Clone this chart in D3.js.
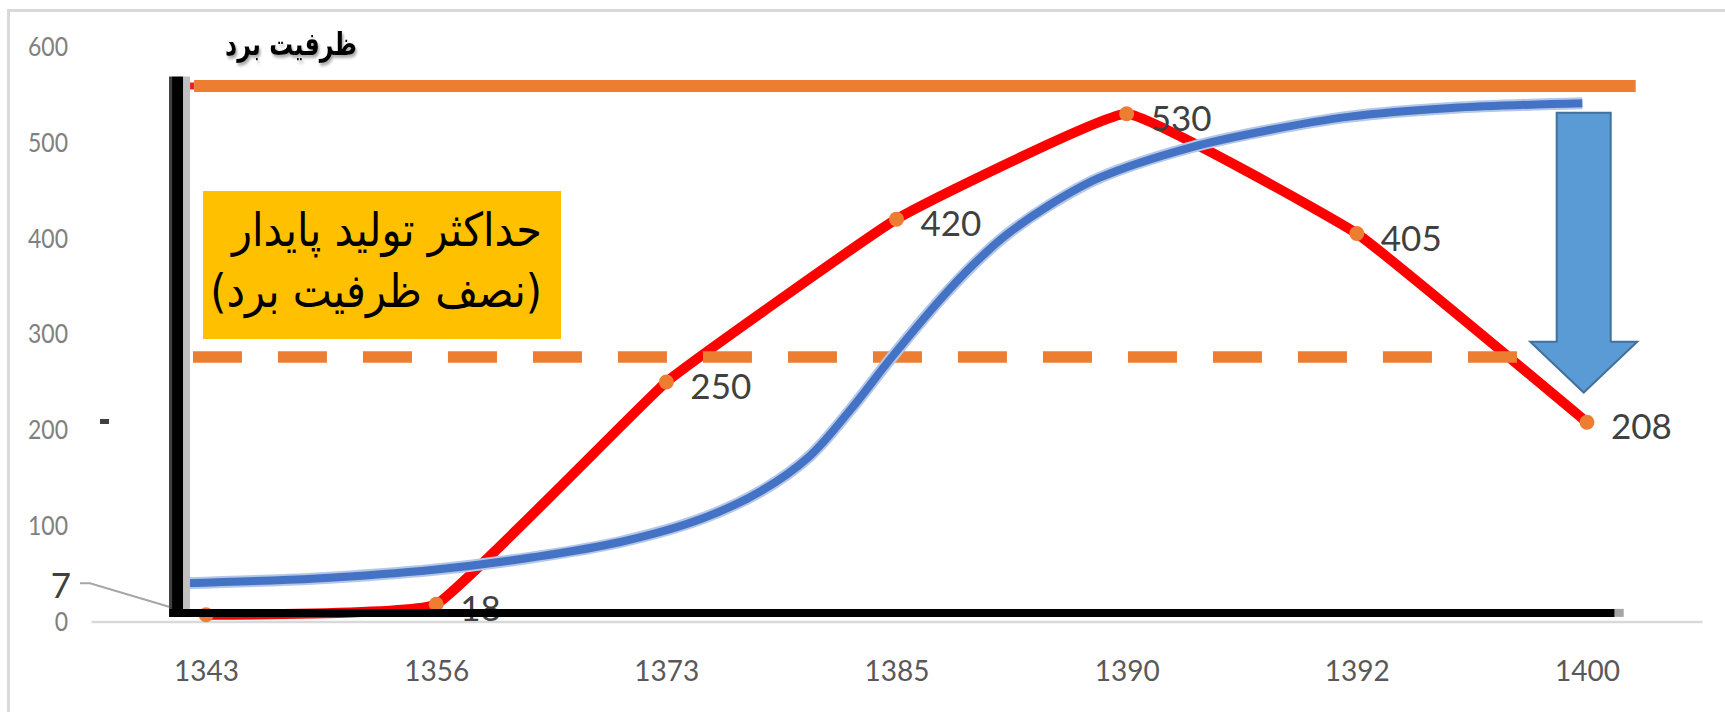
<!DOCTYPE html>
<html>
<head>
<meta charset="utf-8">
<script src="https://cdn.jsdelivr.net/npm/d3@7"></script>
<style>
  body { margin: 0; background: #ffffff; }
  svg { display: block; }
</style>
</head>
<body>
<svg id="chart" width="1725" height="712"></svg>
<script>
// Years on the category axis and the observed harvest for each year
const years = ["1343", "1356", "1373", "1385", "1390", "1392", "1400"];
const harvest = [7, 18, 250, 420, 530, 405, 208];
const yTicks = [0, 100, 200, 300, 400, 500, 600];

// Logistic growth curve: position along the year axis (in category steps) and stock level
const growthPos = [-0.09, 0.48, 0.99, 1.42, 1.80, 2.15, 2.41, 2.62, 2.80, 2.98, 3.19, 3.34, 3.48, 3.66, 3.88, 4.28, 4.62, 4.97, 5.41, 5.98];
const growthVal = [40, 45, 54, 67, 83, 107, 136, 172, 221, 276, 336, 374, 404, 434, 463, 495, 513, 527, 536, 541];

// Carrying capacity and the maximum sustainable yield level (half of it)
const capacity = 559;
const msyLevel = 276;

const titleText = "ظرفیت برد";
const boxLines = ["حداکثر تولید پایدار", "(نصف ظرفیت برد)"];

const W = 1725, H = 712;
const svg = d3.select("#chart");

const x = d3.scalePoint().domain(years).range([91, 1702]).padding(0.5);
const y = d3.scaleLinear().domain([0, 600]).range([621.5, 46.7]);
// fractional category position -> pixel
const xp = p => x(years[0]) + p * x.step();

const defs = svg.append("defs");
const shadow = defs.append("filter").attr("id", "titleShadow")
  .attr("x", "-10%").attr("y", "-20%").attr("width", "130%").attr("height", "160%");
shadow.append("feDropShadow").attr("dx", 1.5).attr("dy", 2).attr("stdDeviation", 1.2)
  .attr("flood-color", "#7f7f7f").attr("flood-opacity", 0.7);

svg.append("rect").attr("width", W).attr("height", H).attr("fill", "#ffffff");

// chart area border
svg.append("path")
  .attr("d", `M8.5,${H} V10.5 H${W}`)
  .attr("fill", "none").attr("stroke", "#d9d9d9").attr("stroke-width", 3);

// value axis labels
const yAxis = svg.append("g").attr("transform", "translate(68,0)")
  .call(d3.axisLeft(y).tickValues(yTicks).tickSize(0).tickPadding(0));
yAxis.select(".domain").remove();
yAxis.selectAll("text")
  .attr("font-family", "Lato, 'Open Sans', sans-serif")
  .attr("font-size", 23)
  .attr("fill", "#808080")
  .attr("transform", "scale(1,1.2)");

// category axis with the zero gridline as its domain
const xAxis = svg.append("g").attr("transform", `translate(0,${y(0)})`)
  .call(d3.axisBottom(x).tickSize(0).tickPadding(40));
xAxis.select(".domain").attr("stroke", "#d9d9d9").attr("stroke-width", 2.5);
xAxis.selectAll("text")
  .attr("font-family", "Lato, 'Open Sans', sans-serif")
  .attr("font-size", 28)
  .attr("fill", "#595959");

// small stray tick mark left of the plot
svg.append("rect").attr("x", 100).attr("y", 419).attr("width", 9).attr("height", 5).attr("fill", "#404040");

// harvest series (lightly smoothed line)
const harvestLine = d3.line()
  .x((d, i) => x(years[i]))
  .y(d => y(d))
  .curve(d3.curveCardinal.tension(0.72));

svg.append("path")
  .datum(harvest)
  .attr("d", harvestLine)
  .attr("fill", "none")
  .attr("stroke", "#ff0000")
  .attr("stroke-width", 10)
  .attr("stroke-linecap", "round")
  .attr("stroke-linejoin", "round");

svg.append("g").selectAll("circle")
  .data(harvest)
  .join("circle")
  .attr("cx", (d, i) => x(years[i]))
  .attr("cy", d => y(d))
  .attr("r", 7.5)
  .attr("fill", "#ed7d31");

// value labels, to the right of each point
const labelFont = "Lato, 'Open Sans', sans-serif";
svg.append("g").selectAll("text")
  .data(harvest.slice(1))
  .join("text")
  .attr("x", (d, i) => x(years[i + 1]) + 24)
  .attr("y", d => y(d) + 3)
  .attr("dominant-baseline", "central")
  .attr("font-family", labelFont)
  .attr("font-size", 35)
  .attr("fill", "#404040")
  .text(d => d);

// first point's label sits left of the axis with a leader line
const firstY = y(harvest[0]);
svg.append("polyline")
  .attr("points", `80,${y(40)} 90,${y(40)} 169,${firstY - 8}`)
  .attr("fill", "none").attr("stroke", "#a6a6a6").attr("stroke-width", 2);
svg.append("text")
  .attr("x", 61).attr("y", y(39))
  .attr("dominant-baseline", "central")
  .attr("text-anchor", "middle")
  .attr("font-family", labelFont)
  .attr("font-size", 35)
  .attr("fill", "#404040")
  .text(harvest[0]);

// dashed MSY level
svg.append("line")
  .attr("x1", xp(-0.057)).attr("x2", xp(5.71))
  .attr("y1", y(msyLevel)).attr("y2", y(msyLevel))
  .attr("stroke", "#ed7d31").attr("stroke-width", 11.5)
  .attr("stroke-dasharray", "49 36");

// logistic growth curve
const growth = growthPos.map((p, i) => [p, growthVal[i]]);
const growthLine = d3.line()
  .x(d => xp(d[0]))
  .y(d => y(d[1]))
  .curve(d3.curveCatmullRom.alpha(0.5));
svg.append("path").datum(growth).attr("d", growthLine)
  .attr("fill", "none").attr("stroke", "#b4c7e7").attr("stroke-width", 12);
svg.append("path").datum(growth).attr("d", growthLine)
  .attr("fill", "none").attr("stroke", "#4472c4").attr("stroke-width", 8);

// carrying capacity line
svg.append("line")
  .attr("x1", xp(-0.113)).attr("x2", xp(-0.052))
  .attr("y1", y(capacity)).attr("y2", y(capacity))
  .attr("stroke", "#e8232a").attr("stroke-width", 7);
svg.append("line")
  .attr("x1", xp(-0.052)).attr("x2", xp(6.212))
  .attr("y1", y(capacity)).attr("y2", y(capacity))
  .attr("stroke", "#ed7d31").attr("stroke-width", 12);

// heavy black axes drawn over the chart
const axX = xp(-0.124);
svg.append("line").attr("x1", axX + 9).attr("x2", axX + 9)
  .attr("y1", y(569)).attr("y2", y(5))
  .attr("stroke", "#c0c0c0").attr("stroke-width", 7);
svg.append("line").attr("x1", axX - 7).attr("x2", axX - 7)
  .attr("y1", y(569)).attr("y2", y(5))
  .attr("stroke", "#404040").attr("stroke-width", 3);
svg.append("line").attr("x1", axX).attr("x2", axX)
  .attr("y1", y(569)).attr("y2", y(5))
  .attr("stroke", "#000000").attr("stroke-width", 11);
svg.append("line").attr("x1", xp(6.12)).attr("x2", xp(6.16))
  .attr("y1", y(9)).attr("y2", y(9))
  .attr("stroke", "#a6a6a6").attr("stroke-width", 8);
svg.append("line").attr("x1", xp(-0.16)).attr("x2", xp(6.12))
  .attr("y1", y(9)).attr("y2", y(9))
  .attr("stroke", "#000000").attr("stroke-width", 8);

// downward arrow from the capacity level to the latest harvest
const ax = xp(5.986);
const aTop = y(531), aNeck = y(292), aTip = y(239);
const shaftHalf = 27, headHalf = 53.5;
svg.append("polygon")
  .attr("points", [
    [ax - shaftHalf, aTop], [ax + shaftHalf, aTop], [ax + shaftHalf, aNeck],
    [ax + headHalf, aNeck], [ax, aTip], [ax - headHalf, aNeck], [ax - shaftHalf, aNeck]
  ].map(p => p.join(",")).join(" "))
  .attr("fill", "#5b9bd5")
  .attr("stroke", "#41719c")
  .attr("stroke-width", 2);

// MSY note box
svg.append("rect")
  .attr("x", 203).attr("y", 191).attr("width", 358).attr("height", 148)
  .attr("fill", "#ffc000");

const arabicFont = "'DejaVu Sans', 'Noto Sans', sans-serif";
const boxText = svg.append("g");
const line1 = boxText.append("text")
  .attr("direction", "rtl").attr("text-anchor", "start")
  .attr("font-family", arabicFont).attr("font-size", 30)
  .attr("fill", "#000000")
  .attr("transform", "translate(542,246) scale(1,1.12)")
  .text(boxLines[0]);
const w1 = line1.node().getComputedTextLength();
const fs = 30 * 310 / w1;
line1.attr("font-size", fs);
boxText.append("text")
  .attr("direction", "rtl").attr("text-anchor", "start")
  .attr("font-family", arabicFont).attr("font-size", fs)
  .attr("fill", "#000000")
  .attr("transform", "translate(542,307) scale(1,1.12)")
  .text(boxLines[1]);

// title
const title = svg.append("text")
  .attr("text-anchor", "middle")
  .attr("font-family", arabicFont)
  .attr("font-weight", "bold")
  .attr("font-size", 26)
  .attr("fill", "#000000")
  .attr("filter", "url(#titleShadow)")
  .attr("transform", "translate(291,55) scale(1,1.35)")
  .text(titleText);
const tw = title.node().getComputedTextLength();
title.attr("font-size", 26 * 132 / tw);
</script>
</body>
</html>
